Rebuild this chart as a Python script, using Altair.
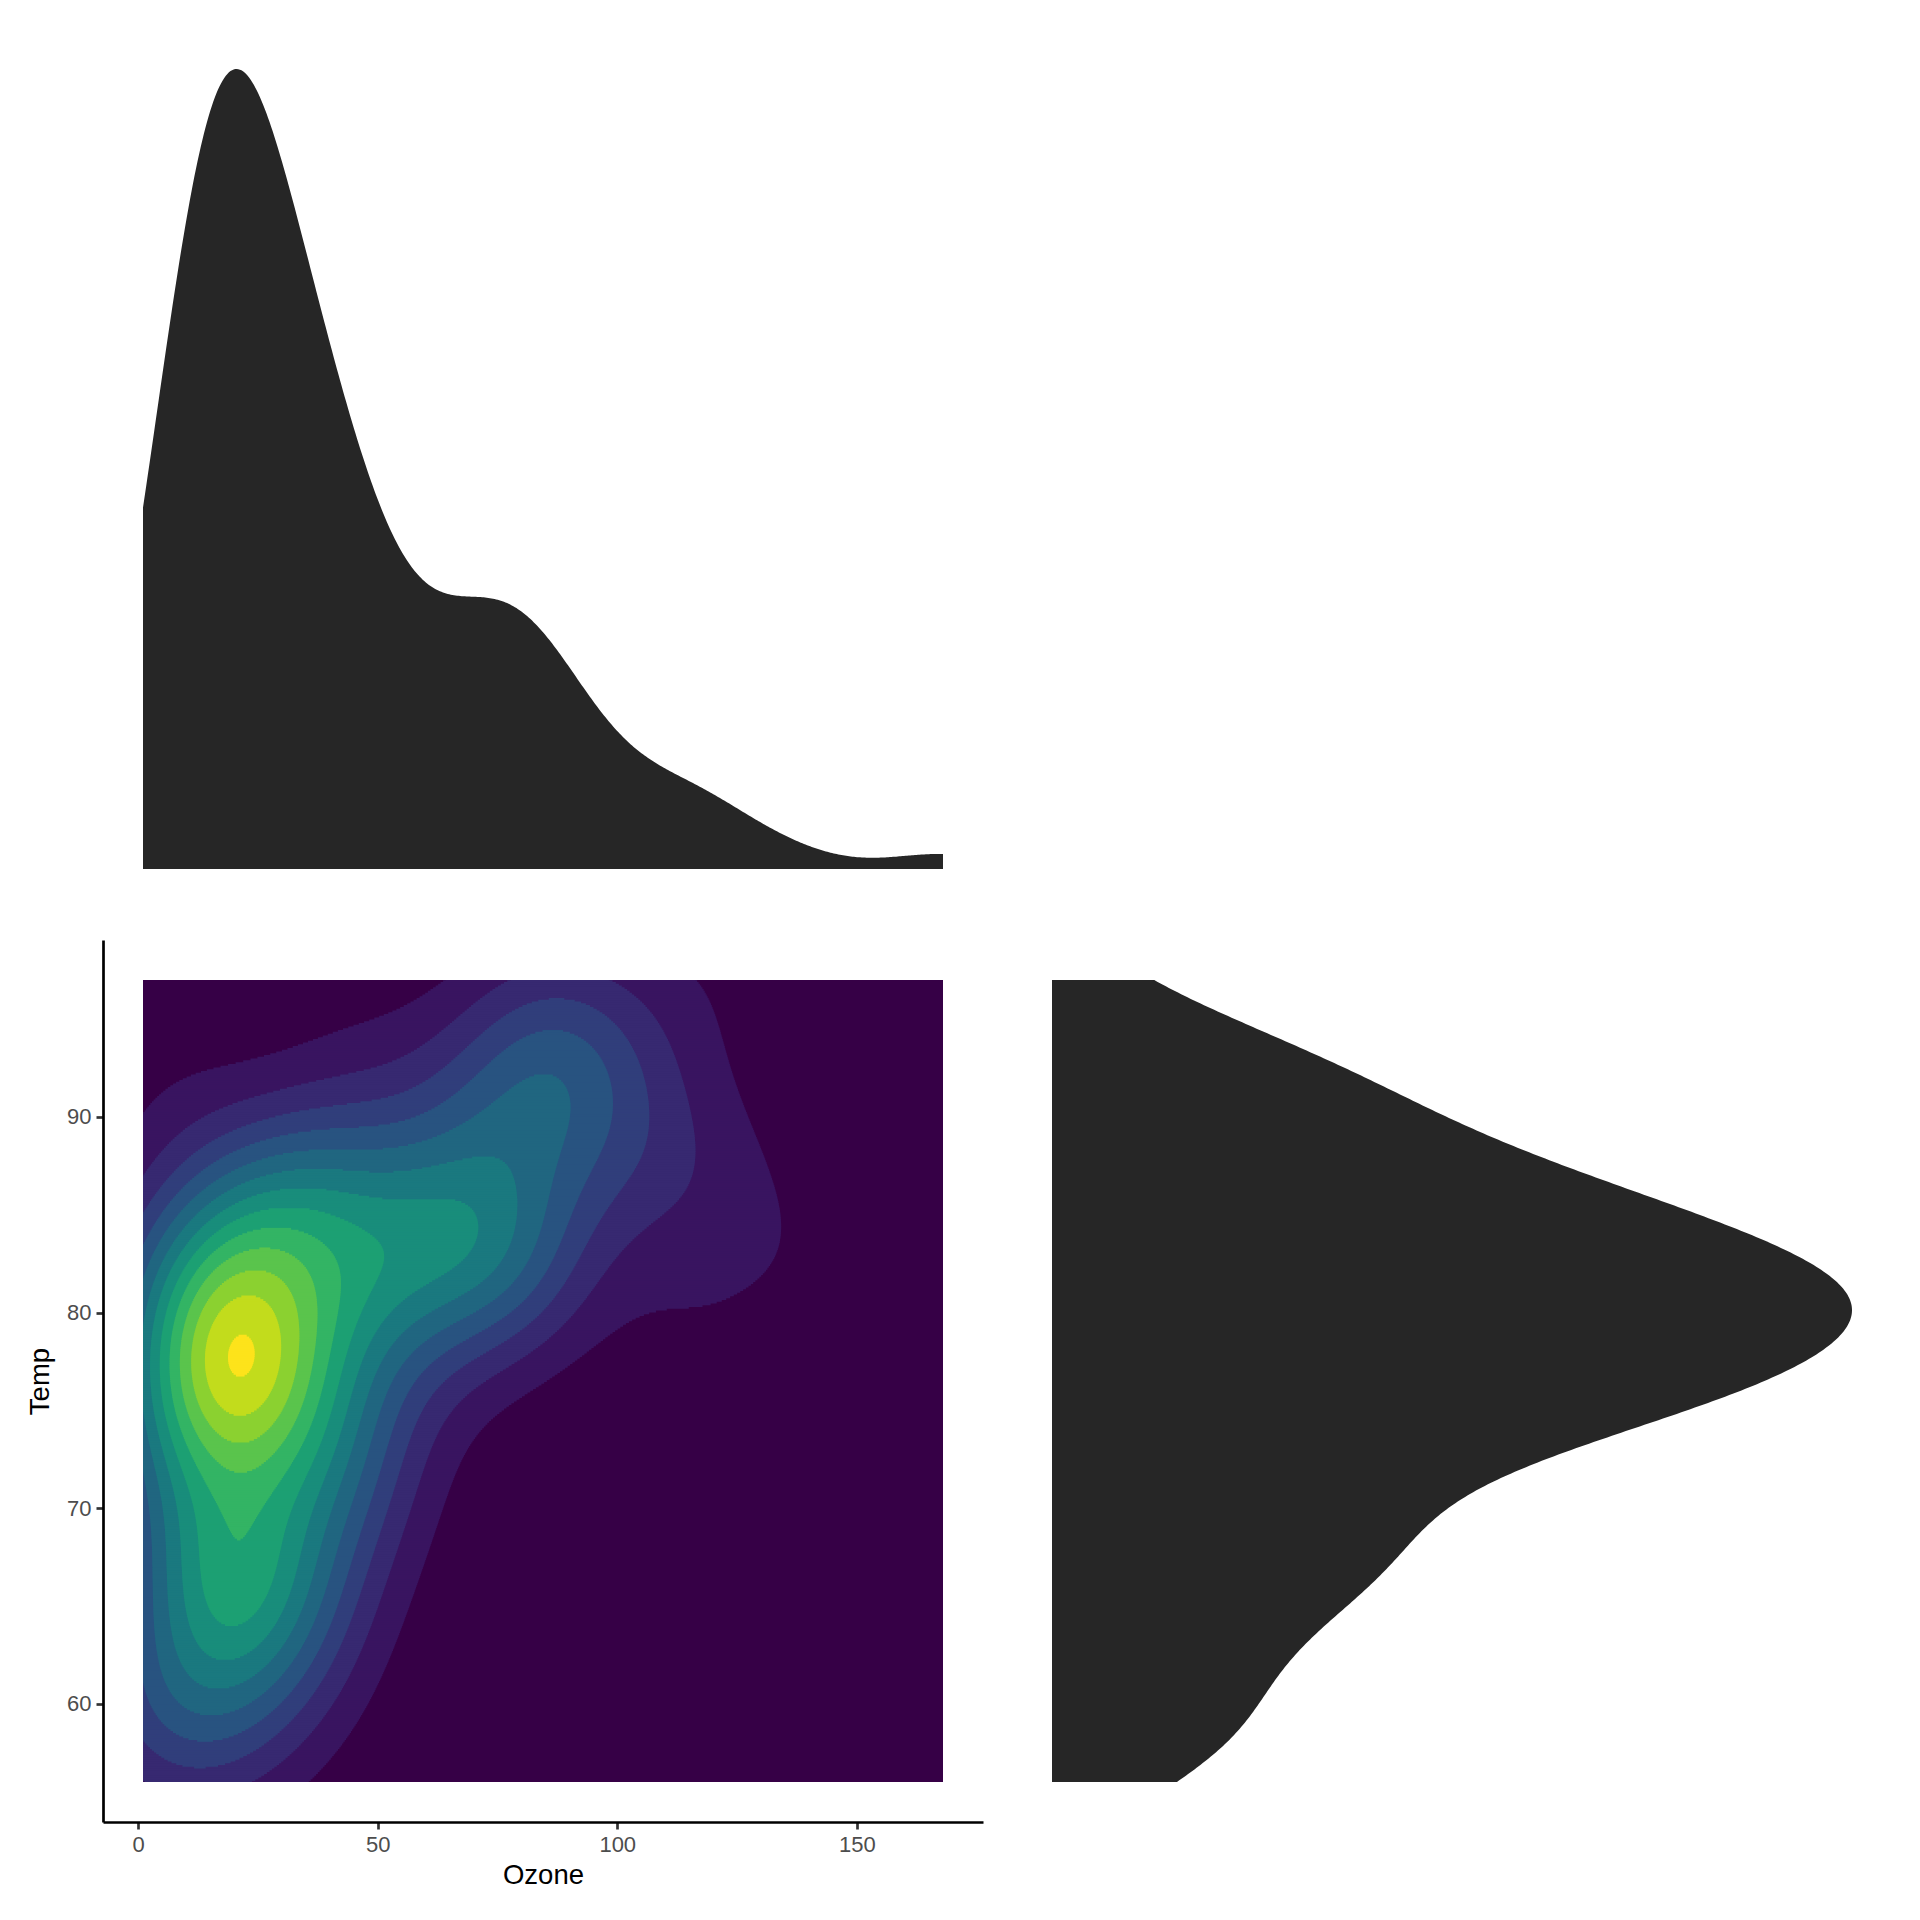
import math
import numpy as np
import pandas as pd
import altair as alt

alt.data_transformers.disable_max_rows()

# airquality: Ozone (None = NA) and Temp, May..September
ozone = [41, 36, 12, 18, None, 28, 23, 19, 8, None, 7, 16, 11, 14, 18, 14, 34, 6, 30, 11,
         1, 11, 4, 32, None, None, None, 23, 45, 115, 37,
         None, None, None, None, None, None, 29, None, 71, 39, None, None, 23, None, None, 21, 37, 20, 12,
         13, None, None, None, None, None, None, None, None, None,
         135, 49, 32, None, 64, 40, 77, 97, 97, 85, None, 10, 27, None, 7, 48, 35, 61, 79, 63,
         16, None, None, 80, 108, 20, 52, 82, 50, 64, 59,
         39, 9, 16, 78, 35, 66, 122, 89, 110, None, None, 44, 28, 65, None, 22, 59, 23, 31, 44,
         21, 9, None, 45, 168, 73, None, 76, 118, 84, 85,
         96, 78, 73, 91, 47, 32, 20, 23, 21, 24, 44, 21, 28, 9, 13, 46, 18, 13, 24, 16,
         13, 23, 36, 7, 14, 30, None, 14, 18, 20]
temp = [67, 72, 74, 62, 56, 66, 65, 59, 61, 69, 74, 69, 66, 68, 58, 64, 66, 57, 68, 62,
        59, 73, 61, 61, 57, 58, 57, 67, 81, 79, 76,
        78, 74, 67, 84, 85, 79, 82, 87, 90, 87, 93, 92, 82, 80, 79, 77, 72, 65, 73,
        76, 77, 76, 76, 76, 75, 78, 73, 80, 77, 83,
        84, 85, 81, 84, 83, 83, 88, 92, 92, 89, 82, 73, 81, 91, 80, 81, 82, 84, 87, 85,
        74, 81, 82, 86, 85, 82, 86, 88, 86, 83, 81,
        81, 81, 82, 86, 85, 87, 89, 90, 90, 92, 86, 86, 82, 80, 79, 77, 79, 76, 78, 78,
        77, 72, 75, 79, 81, 86, 88, 97, 94, 96, 94,
        91, 92, 93, 93, 87, 84, 80, 78, 75, 73, 81, 76, 77, 71, 71, 78, 67, 76, 68, 82,
        64, 71, 81, 69, 63, 70, 77, 75, 76, 68]

x_ticks = [0, 50, 100, 150]
y_ticks = [60, 70, 80, 90]

VIRIDIS11 = ["#440154", "#482576", "#414487", "#35608D", "#2A788E", "#21908C",
             "#22A884", "#43BF71", "#7AD151", "#BBDF27", "#FDE725"]
PALETTE_GAMMA = 1.17
MARGIN_FILL = "#262626"
FONT = "Liberation Sans"

# ---------------- statistics ----------------
oz_all = np.array([o for o in ozone if o is not None], float)
pairs = np.array([(o, t) for o, t in zip(ozone, temp) if o is not None], float)
px, py = pairs[:, 0], pairs[:, 1]
temp_arr = np.array(temp, float)

x_lo, x_hi = float(np.min(oz_all)), float(np.max(oz_all))
y_lo, y_hi = float(np.min(temp_arr)), float(np.max(temp_arr))
xd = [x_lo - 0.05 * (x_hi - x_lo), x_hi + 0.05 * (x_hi - x_lo)]
yd = [y_lo - 0.05 * (y_hi - y_lo), y_hi + 0.05 * (y_hi - y_lo)]


def bw_nrd(v):
    q1, q3 = np.percentile(v, [25, 75])
    return 4 * 1.06 * min(np.std(v, ddof=1), (q3 - q1) / 1.34) * len(v) ** (-0.2)


def bw_nrd0(v):
    q1, q3 = np.percentile(v, [25, 75])
    return 0.9 * min(np.std(v, ddof=1), (q3 - q1) / 1.34) * len(v) ** (-0.2)


# bandwidths from the Ozone values and the full Temp column
hx, hy = bw_nrd(oz_all) / 4.0, bw_nrd(temp_arr) / 4.0


def kde2(gx, gy):
    ax = np.exp(-0.5 * ((gx[:, None] - px[None, :]) / hx) ** 2) / math.sqrt(2 * math.pi)
    ay = np.exp(-0.5 * ((gy[:, None] - py[None, :]) / hy) ** 2) / math.sqrt(2 * math.pi)
    return (ay @ ax.T) / (len(px) * hx * hy)  # rows = y, cols = x


def r_pretty(lo, hi, n=10):
    h, h5 = 1.5, 0.5 + 1.5 * 1.5
    cell = (hi - lo) / n
    base = 10 ** math.floor(math.log10(cell))
    unit = base
    if 2 * base - cell < h * (cell - unit):
        unit = 2 * base
        if 5 * base - cell < h5 * (cell - unit):
            unit = 5 * base
            if 10 * base - cell < h * (cell - unit):
                unit = 10 * base
    ns = math.floor(lo / unit + 1e-7)
    nu = math.ceil(hi / unit - 1e-7)
    return [i * unit for i in range(ns, nu + 1)]


zc = kde2(np.linspace(x_lo, x_hi, 100), np.linspace(y_lo, y_hi, 100))
breaks = r_pretty(float(zc.min()), float(zc.max()), 10)
n_levels = len(breaks) - 1


def viridis(n):
    anc = np.array([[int(c[i:i + 2], 16) for i in (1, 3, 5)] for c in VIRIDIS11], float)
    out = []
    for t in np.linspace(0, 1, n):
        p = t * 10
        i = min(int(p), 9)
        f = p - i
        c = anc[i] * (1 - f) + anc[i + 1] * f
        c = 255.0 * (c / 255.0) ** PALETTE_GAMMA
        out.append("#%02x%02x%02x" % tuple(int(round(v)) for v in c))
    return out


colors = viridis(n_levels)

# filled bands drawn as horizontal runs, lowest band first
gx = np.linspace(x_lo, x_hi, 1000)
gy = np.linspace(y_lo, y_hi, 451)
dy = gy[1] - gy[0]
zf = kde2(gx, gy)

rows = [dict(x0=x_lo, x1=x_hi, y0=y_lo, y1=y_hi, lvl=0)]
for k in range(1, n_levels):
    b = breaks[k]
    for j in range(len(gy)):
        z = zf[j]
        m = z > b
        if not m.any():
            continue
        d = np.diff(m.astype(int))
        starts = list(np.where(d == 1)[0] + 1)
        ends = list(np.where(d == -1)[0])
        if m[0]:
            starts = [0] + starts
        if m[-1]:
            ends = ends + [len(m) - 1]
        ya = max(y_lo, gy[j] - dy / 2)
        yb = min(y_hi, gy[j] + dy / 2 + 0.45 * dy)
        for s, e in zip(starts, ends):
            if s == 0:
                xa = gx[0]
            else:
                f = (b - z[s - 1]) / (z[s] - z[s - 1])
                xa = gx[s - 1] + f * (gx[s] - gx[s - 1])
            if e == len(m) - 1:
                xb = gx[-1]
            else:
                f = (z[e] - b) / (z[e] - z[e + 1])
                xb = gx[e] + f * (gx[e + 1] - gx[e])
            rows.append(dict(x0=round(xa, 3), x1=round(xb, 3), y0=round(ya, 3),
                             y1=round(yb, 3), lvl=k))
cells = pd.DataFrame(rows)

# ---------------- charts ----------------
PW, PH = 880, 882

axis_common = dict(grid=False, domainColor="black", domainWidth=2.7, tickColor="#333333",
                   tickWidth=2.7, tickSize=7, labelColor="#4D4D4D", labelFontSize=22,
                   labelFont=FONT, titleFont=FONT, titleFontSize=27.5, titleFontWeight="normal",
                   titleColor="black", labelPadding=5, labelFlush=False)

main = alt.Chart(cells).mark_rect(strokeWidth=0).encode(
    x=alt.X("x0:Q", scale=alt.Scale(domain=xd, nice=False, zero=False),
            axis=alt.Axis(values=x_ticks, title="Ozone", titlePadding=6, **axis_common)),
    x2="x1:Q",
    y=alt.Y("y0:Q", scale=alt.Scale(domain=yd, nice=False, zero=False),
            axis=alt.Axis(values=y_ticks, title="Temp", titlePadding=12, **axis_common)),
    y2="y1:Q",
    color=alt.Color("lvl:O", scale=alt.Scale(domain=list(range(n_levels)), range=colors),
                    legend=None),
).properties(width=PW, height=PH)

top = alt.Chart(pd.DataFrame({"Ozone": oz_all})).transform_density(
    "Ozone", bandwidth=float(bw_nrd0(oz_all)), extent=[x_lo, x_hi], steps=512,
    as_=["value", "density"]
).mark_area(color=MARGIN_FILL).encode(
    x=alt.X("value:Q", scale=alt.Scale(domain=xd, nice=False, zero=False), axis=None),
    y=alt.Y("density:Q", scale=alt.Scale(nice=False, zero=True), axis=None),
).properties(width=PW, height=800)

right = alt.Chart(pd.DataFrame({"Temp": temp_arr})).transform_density(
    "Temp", bandwidth=float(bw_nrd0(temp_arr)), extent=[y_lo, y_hi], steps=512,
    as_=["value", "density"]
).mark_area(color=MARGIN_FILL, orient="horizontal").encode(
    y=alt.Y("value:Q", scale=alt.Scale(domain=yd, nice=False, zero=False), axis=None),
    x=alt.X("density:Q", scale=alt.Scale(nice=False, zero=True), axis=None),
).properties(width=800, height=PH)

blank = alt.Chart(pd.DataFrame({"v": [0]})).mark_point(opacity=0).encode(
    x=alt.X("v:Q", axis=None), y=alt.Y("v:Q", axis=None)
).properties(width=800, height=40)

chart = alt.concat(top, blank, main, right, columns=2,
                   spacing={"row": 71, "column": 69}, align="each").properties(
    padding={"left": 18, "top": 61, "right": 5, "bottom": 5}
).configure_view(strokeOpacity=0)

chart.save("out.html", embed_options={"renderer": "svg", "actions": False})
